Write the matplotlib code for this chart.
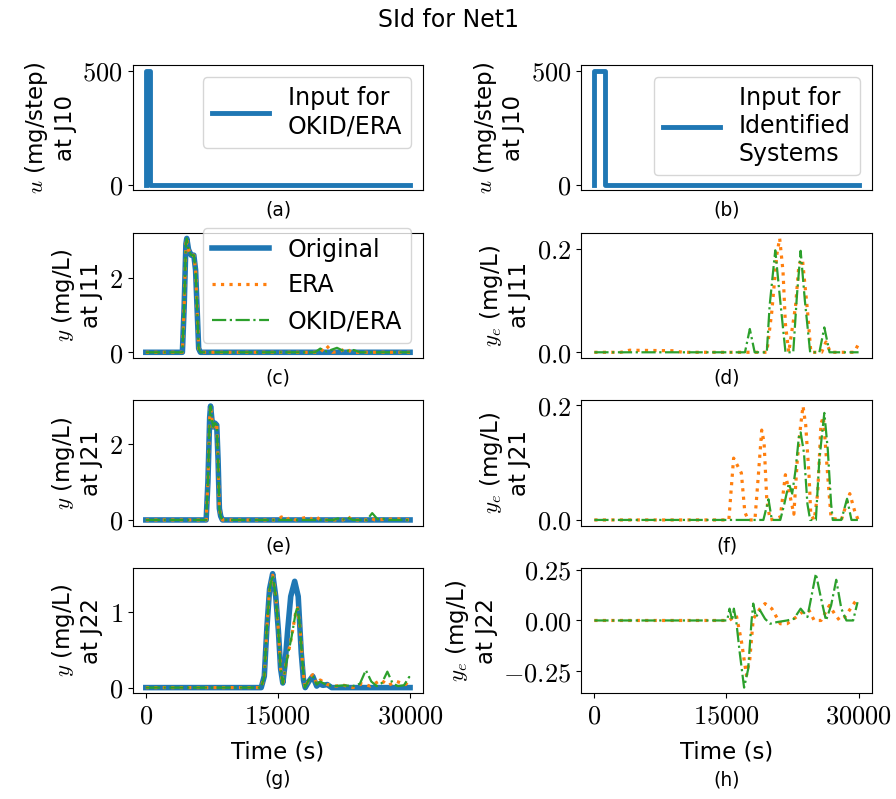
import matplotlib
matplotlib.use('Agg')
import matplotlib.pyplot as plt

plt.rcParams['font.family'] = 'DejaVu Sans'
plt.rcParams['mathtext.fontset'] = 'cm'

# ---- input pulses at J10 (mg/step) ----
u_okid_t = [0, 0, 500, 500, 30000]
u_okid = [0, 500, 500, 0, 0]
u_id_t = [0, 0, 1200, 1200, 30000]
u_id = [0, 500, 500, 0, 0]

# ---- J11 output (mg/L) ----
orig_j11_t = [0, 4150, 4350, 4550, 4650, 4850, 5150, 5450, 5650, 5850, 6000, 6200, 30000]
orig_j11 = [0, 0, 1.2, 2.9, 3.05, 2.75, 2.6, 2.6, 2.2, 1.0, 0.1, 0, 0]
era_j11_t = [0, 4150, 4350, 4550, 4650, 4850, 5150, 5450, 5650, 5850, 6000, 6200,
             19800, 20500, 21200, 22000, 22700, 23400, 30000]
era_j11 = [0, 0, 1.2, 2.9, 3.05, 2.75, 2.6, 2.6, 2.2, 1.0, 0.1, 0,
           0, 0.18, 0, 0.02, 0.1, 0, 0]
okid_j11_t = [0, 4150, 4350, 4550, 4650, 4850, 5150, 5450, 5650, 5850, 6000, 6200,
              19200, 19800, 20500, 21700, 22500, 23600, 24300, 30000]
okid_j11 = [0, 0, 1.2, 2.9, 3.05, 2.75, 2.6, 2.6, 2.2, 1.0, 0.1, 0,
            0, 0.1, 0.02, 0.12, 0.03, 0.06, 0, 0]

# ---- J21 output (mg/L) ----
orig_j21_t = [0, 6850, 7050, 7250, 7350, 7500, 7650, 7850, 8050, 8200, 8350, 8500, 8700, 30000]
orig_j21 = [0, 0, 1.0, 2.7, 3.0, 2.65, 2.45, 2.55, 2.5, 1.6, 0.3, 0.1, 0, 0]
era_j21_t = [0, 6850, 7050, 7250, 7350, 7500, 7650, 7850, 8050, 8200, 8350, 8500, 8700,
             15000, 15400, 15900, 16500, 17000, 18400, 18900, 19300, 19800,
             22400, 22900, 23400, 25000, 25500, 26000, 28500, 30000]
era_j21 = [0, 0, 1.0, 2.7, 3.0, 2.65, 2.45, 2.55, 2.5, 1.6, 0.3, 0.1, 0,
           0, 0.08, 0, 0.07, 0, 0.08, 0.02, 0.09, 0,
           0, 0.1, 0, 0, 0.05, 0, 0.03, 0]
okid_j21_t = [0, 6850, 7050, 7250, 7350, 7500, 7650, 7850, 8050, 8200, 8350, 8500, 8700,
              21300, 21800, 22300, 22900, 23500, 25100, 25700, 26300, 27000, 27600, 30000]
okid_j21 = [0, 0, 1.0, 2.7, 3.0, 2.65, 2.45, 2.55, 2.5, 1.6, 0.3, 0.1, 0,
            0, 0.04, 0, 0.06, 0, 0, 0.18, 0.02, 0.03, 0, 0]

# ---- J22 output (mg/L) ----
orig_j22_t = [0, 13100, 13450, 13750, 14050, 14400, 14750, 15050, 15300, 15550, 15800,
              16100, 16450, 16900, 17300, 17650, 17900, 18100, 18500, 18950, 19400,
              19700, 20100, 20600, 21100, 30000]
orig_j22 = [0, 0, 0.15, 0.8, 1.3, 1.5, 1.2, 0.75, 0.25, 0.06, 0.3,
            0.75, 1.2, 1.4, 1.2, 0.45, 0.1, 0, 0.08, 0.15, 0.02,
            0.05, 0.03, 0.04, 0, 0]
era_j22_t = [0, 13100, 13450, 13750, 14050, 14400, 14750, 15050, 15300, 15550, 15900,
             16550, 17000, 17230, 17500, 17800, 18050, 18500, 18950, 19400, 19800,
             20600, 21500, 22500, 23500, 24500, 25500, 26700, 27500, 28500, 29500, 30000]
era_j22 = [0, 0, 0.15, 0.8, 1.3, 1.48, 1.2, 0.75, 0.25, 0.05, 0.3,
           0.67, 0.98, 1.05, 0.8, 0.3, 0, 0.1, 0.17, 0.05, 0.1,
           0.04, 0.02, 0.03, 0, 0.05, 0.02, 0.1, 0.03, 0.08, 0.04, 0.12]
okid_j22_t = [0, 13100, 13450, 13750, 14050, 14400, 14750, 15050, 15300, 15550, 15900,
              16550, 17000, 17230, 17500, 17800, 18050, 18500, 18950, 19400, 19800,
              20600, 21500, 22500, 23500, 24300, 24980, 25600, 26200, 26800, 27420,
              28000, 28600, 29300, 29900, 30000]
okid_j22 = [0, 0, 0.15, 0.8, 1.3, 1.48, 1.2, 0.75, 0.25, 0.05, 0.3,
            0.67, 0.98, 1.07, 0.8, 0.3, 0, 0.1, 0.15, 0.04, 0.08,
            0.03, 0.02, 0.03, 0.02, 0.05, 0.23, 0.08, 0.02, 0.06, 0.21,
            0.06, 0.02, 0.03, 0.14, 0.1]

# ---- identified-system errors, J11 ----
era_e_j11_t = [0, 3000, 4000, 9000, 10000, 15000, 19580, 20150, 20730, 21040, 21420, 21690,
               22070, 22840, 23230, 23620, 24200, 24580, 25800, 26300, 26800, 29500, 29960]
era_e_j11 = [0, 0, 0.004, 0.003, 0, 0, 0, 0.079, 0.19, 0.22, 0.156, 0.055,
             0, 0.089, 0.17, 0.18, 0.08, 0, 0, 0.02, 0, 0, 0.015]
okid_e_j11_t = [0, 17100, 17650, 18200, 19580, 19900, 20540, 21100, 21700, 22580, 23000,
                23420, 23900, 24500, 25550, 26110, 26700, 30000]
okid_e_j11 = [0, 0, 0.045, 0, 0, 0.09, 0.197, 0.1, 0, 0, 0.11,
              0.196, 0.1, 0, 0, 0.048, 0, 0]

# ---- identified-system errors, J21 ----
era_e_j21_t = [0, 15270, 15810, 16690, 17080, 17460, 18230, 18610, 19000, 19270, 19580, 19960,
               21110, 21690, 22080, 22650, 23040, 23420, 23690, 24000, 24380, 24570, 24960,
               25350, 25730, 26000, 26500, 26880, 28040, 29000, 29580, 29960]
era_e_j21 = [0, 0, 0.108, 0.082, 0.014, 0, 0, 0.076, 0.157, 0.135, 0.034, 0,
             0.005, 0.079, 0.052, 0.01, 0.105, 0.165, 0.199, 0.165, 0.076, 0.01, 0,
             0.046, 0.168, 0.18, 0.076, 0.003, 0, 0.046, 0.014, 0]
okid_e_j21_t = [0, 19190, 19770, 20150, 21110, 21570, 22080, 22460, 22850, 23230, 23420,
                23800, 24190, 24500, 25150, 25540, 26110, 26500, 26880, 27070, 28040,
                28690, 29190, 30000]
okid_e_j21 = [0, 0, 0.036, 0, 0, 0.028, 0.064, 0.046, 0.088, 0.147, 0.153,
              0.117, 0.028, 0, 0, 0.105, 0.187, 0.123, 0.028, 0, 0,
              0.037, 0, 0]

# ---- identified-system errors, J22 ----
era_e_j22_t = [0, 15300, 16120, 16690, 17270, 17650, 18040, 18810, 19380, 20150, 21110,
               21880, 22650, 23620, 24380, 24960, 25730, 26690, 27270, 27850, 28420,
               29580, 30000]
era_e_j22 = [0, 0, 0.025, -0.1, -0.27, -0.19, 0.008, 0.058, 0.083, 0.058, -0.016,
             -0.016, 0.008, 0.041, 0.05, 0, 0, 0.074, 0.033, 0, 0.016,
             0.09, 0.11]
okid_e_j22_t = [0, 15080, 15350, 15650, 15840, 16120, 16500, 17000, 17460, 17850, 18040,
                18350, 18810, 19380, 19960, 20730, 21880, 22650, 23420, 24190, 25150,
                25730, 26300, 26880, 27460, 28040, 28620, 29380, 29880]
okid_e_j22 = [0, 0, 0.058, 0, 0.058, -0.007, -0.156, -0.33, -0.24, 0, 0.083,
              0.017, 0.05, 0.008, -0.016, -0.008, 0, 0.008, 0.058, 0.017, 0.23,
              0.11, 0, 0.074, 0.2, 0.058, 0, 0, 0.09]

time_ticks = [0, 15000, 30000]
letters = ['(a)', '(b)', '(c)', '(d)', '(e)', '(f)', '(g)', '(h)']

fig, axes = plt.subplots(4, 2, figsize=(8.96, 7.99), dpi=100)
fig.subplots_adjust(left=0.148, right=0.973, top=0.9186, bottom=0.1323,
                    hspace=0.338, wspace=0.543)

lab_fs = 16.5
tick_fs = 19
leg_fs = 17

# row 1: inputs
ax = axes[0, 0]
ax.plot(u_okid_t, u_okid, color='C0', lw=3.5, label='Input for\nOKID/ERA')
ax.legend(loc='upper right', fontsize=leg_fs, handlelength=2.4)
ax.set_yticks([0, 500])
ax.set_yticklabels(['$0$', '$500$'])
ax.set_ylabel('$u$ (mg/step)\nat J10', fontsize=lab_fs)

ax = axes[0, 1]
ax.plot(u_id_t, u_id, color='C0', lw=3.5, label='Input for\nIdentified\nSystems')
ax.legend(loc='upper right', fontsize=leg_fs, handlelength=2.4)
ax.set_yticks([0, 500])
ax.set_yticklabels(['$0$', '$500$'])
ax.set_ylabel('$u$ (mg/step)\nat J10', fontsize=lab_fs)

# left column: original vs identified outputs
left_rows = [
    (orig_j11_t, orig_j11, era_j11_t, era_j11, okid_j11_t, okid_j11, 'J11', [0, 2]),
    (orig_j21_t, orig_j21, era_j21_t, era_j21, okid_j21_t, okid_j21, 'J21', [0, 2]),
    (orig_j22_t, orig_j22, era_j22_t, era_j22, okid_j22_t, okid_j22, 'J22', [0, 1]),
]
for i, (ot, ov, et, ev, kt, kv, node, yt) in enumerate(left_rows):
    ax = axes[i + 1, 0]
    ax.plot(ot, ov, color='C0', lw=4, label='Original')
    ax.plot(et, ev, color='C1', lw=2.3, ls=':', label='ERA')
    ax.plot(kt, kv, color='C2', lw=1.6, ls='-.', label='OKID/ERA')
    ax.set_yticks(yt)
    ax.set_yticklabels(['$%g$' % v for v in yt])
    ax.set_ylabel('$y$ (mg/L)\nat %s' % node, fontsize=lab_fs)
    if i == 0:
        ax.legend(loc='upper right', bbox_to_anchor=(1.0, 1.13),
                  fontsize=leg_fs, handlelength=2.4)

# right column: errors of identified systems
right_rows = [
    (era_e_j11_t, era_e_j11, okid_e_j11_t, okid_e_j11, 'J11', [0, 0.2], '$%.1f$'),
    (era_e_j21_t, era_e_j21, okid_e_j21_t, okid_e_j21, 'J21', [0, 0.2], '$%.1f$'),
    (era_e_j22_t, era_e_j22, okid_e_j22_t, okid_e_j22, 'J22', [-0.25, 0, 0.25], '$%.2f$'),
]
for i, (et, ev, kt, kv, node, yt, fmt) in enumerate(right_rows):
    ax = axes[i + 1, 1]
    ax.plot(et, ev, color='C1', lw=2.3, ls=':')
    ax.plot(kt, kv, color='C2', lw=1.6, ls='-.')
    ax.set_yticks(yt)
    ax.set_yticklabels([fmt % v for v in yt])
    ax.set_ylabel('$y_e$ (mg/L)\nat %s' % node, fontsize=lab_fs)

for k, ax in enumerate(axes.flat):
    ax.tick_params(labelsize=tick_fs)
    row = k // 2
    if row < 3:
        ax.set_xticks([])
        ax.text(0.5, -0.16, letters[k], transform=ax.transAxes,
                ha='center', va='center', fontsize=13.5)
    else:
        ax.set_xticks(time_ticks)
        ax.set_xticklabels(['$%d$' % v for v in time_ticks])
        ax.set_xlabel('Time (s)', fontsize=lab_fs, labelpad=8)
        ax.text(0.5, -0.69, letters[k], transform=ax.transAxes,
                ha='center', va='center', fontsize=13.5)

fig.suptitle('SId for Net1', fontsize=17, y=0.975, va='center')
fig.savefig('out.png', dpi=100)
